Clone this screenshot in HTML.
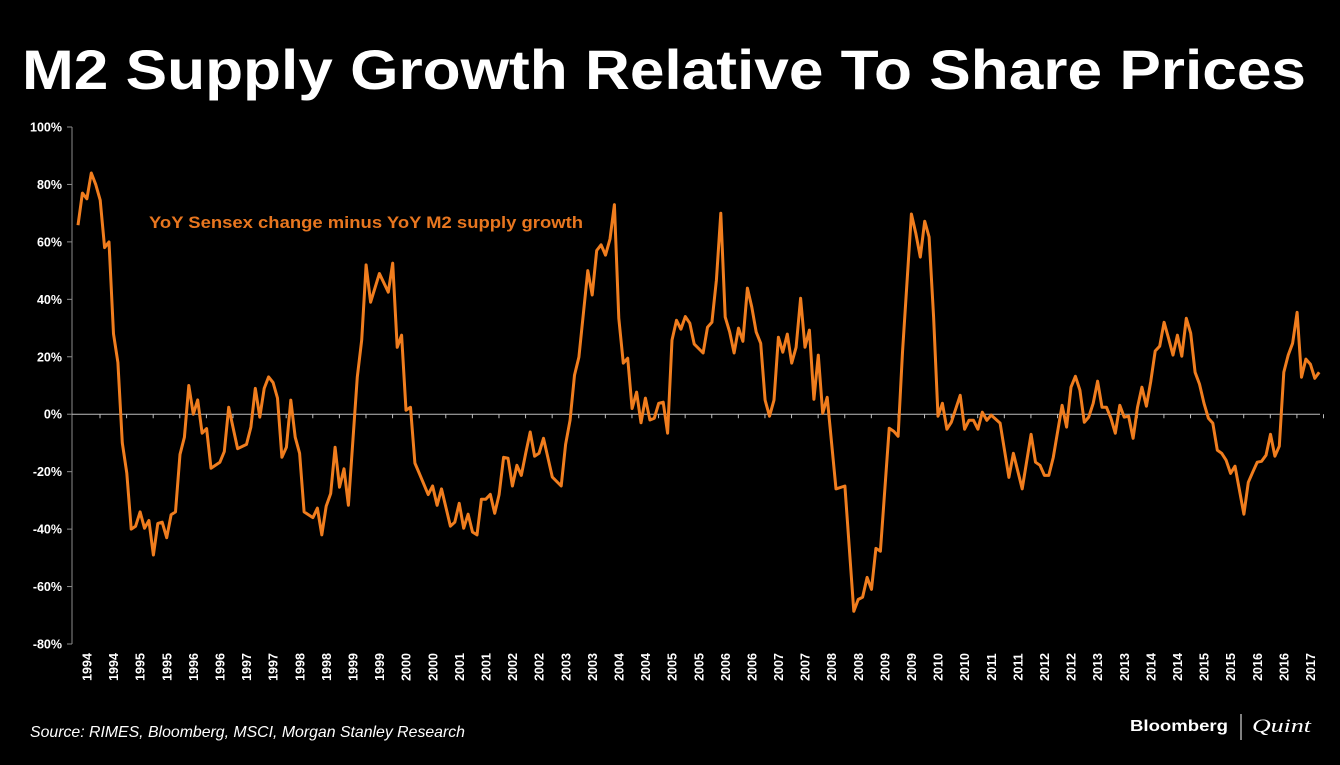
<!DOCTYPE html>
<html><head><meta charset="utf-8"><style>
html,body{margin:0;padding:0;background:#000;}
svg{display:block;font-family:"Liberation Sans",sans-serif;}
</style></head><body>
<svg id="chart" width="1340" height="765" viewBox="0 0 1340 765">
<rect x="0" y="0" width="1340" height="765" fill="#000"/>
<text x="22" y="89" fill="#fff" font-size="56" font-weight="bold" textLength="1284" lengthAdjust="spacingAndGlyphs">M2 Supply Growth Relative To Share Prices</text>
<g id="yaxis"></g>
<g id="xaxis"></g>
<path id="line" fill="none" stroke="#f07d1e" stroke-width="3" stroke-linejoin="round"/>
<text x="149" y="228" fill="#e8761f" font-size="17" font-weight="bold" textLength="434" lengthAdjust="spacingAndGlyphs">YoY Sensex change minus YoY M2 supply growth</text>
<text x="30" y="737" fill="#fff" font-size="16" font-style="italic" textLength="435" lengthAdjust="spacingAndGlyphs">Source: RIMES, Bloomberg, MSCI, Morgan Stanley Research</text>
<text x="1130" y="731" fill="#fff" font-size="16" font-weight="bold" textLength="98" lengthAdjust="spacingAndGlyphs">Bloomberg</text>
<line x1="1241" y1="714" x2="1241" y2="740" stroke="#fff" stroke-width="1"/>
<text x="1252" y="732" fill="#fff" font-size="19" font-style="italic" font-family="Liberation Serif, serif" textLength="59" lengthAdjust="spacingAndGlyphs">Quint</text>
</svg>
<script>
const months = [0,1,2,3,4,5,6,7,8,9,10,11,12,13,14,15,16,17,18,19,20,21,22,23,24,25,26,27,28,29,30,32,33,34,36,38,39,40,41,42,43,44,45,46,47,48,49,50,51,53,54,55,56,57,58,59,60,61,63,64,65,66,68,70,71,72,73,74,75,76,77,79,80,81,82,84,85,86,87,88,89,90,91,92,93,94,95,96,97,98,99,100,101,102,103,104,105,107,109,110,111,112,113,115,116,117,118,119,120,121,122,123,124,125,126,127,128,129,130,131,132,133,134,135,136,137,138,139,141,142,143,144,145,146,147,148,149,150,151,152,153,154,155,156,157,158,159,160,161,162,163,164,165,166,167,168,169,171,173,175,176,177,178,179,180,181,183,184,185,186,188,189,190,191,192,193,194,195,196,197,199,200,201,202,203,204,205,206,208,210,211,213,215,216,217,218,219,220,222,223,224,225,226,227,228,229,230,231,232,233,234,235,236,237,238,239,240,241,242,243,244,245,246,247,248,249,250,251,252,253,254,255,256,257,258,259,260,261,263,264,265,266,267,268,269,270,271,272,273,274,275,276,277,278,279,280];
const values = [65.8,77,75,84,80,74.5,58,60,28,18,-10,-20.5,-40,-39,-34,-39.7,-37,-49,-38,-37.6,-43,-35,-34,-14,-8,10,0,5,-6.6,-5,-18.8,-16.7,-13,2.4,-12,-10.5,-4.5,9,-1,9,13,11,5.6,-15,-11.5,4.9,-8,-13.6,-34,-36,-32.7,-42,-32,-27.6,-11.5,-25.4,-19,-31.7,13,25.8,52,39,49,42.5,52.6,23.3,27.5,1.4,2.4,-17,-20.6,-28,-25,-31.7,-26,-39,-37.6,-31,-39.7,-34.8,-41,-42,-29.6,-29.6,-27.9,-34.5,-28,-15,-15.3,-25,-17.8,-21.3,-13.6,-6.2,-14.6,-13.6,-8.4,-21.9,-25,-10.5,-2,13.6,19.9,50,41.5,57,59,55.4,61,73,33.4,17.8,19.5,2,7.7,-3,5.6,-2,-1.4,3.8,4.2,-6.6,25.8,32.7,29.6,34,31.7,24.4,21.3,30.3,32,46.7,70,33.8,28.6,21.3,30,25.4,43.9,37.3,28.6,24.7,4.9,-0.7,4.9,26.8,21.6,27.9,17.8,23.3,40.4,23.3,29.3,5.2,20.6,0.3,5.9,-26,-25,-68.6,-64.5,-63.7,-56.8,-61,-46.7,-47.7,-4.9,-5.9,-7.7,21.6,69.7,63,54.7,67.2,61.7,33.8,-0.7,3.8,-5.2,-2.8,6.6,-5.2,-2.1,-2.1,-5.2,0.7,-2.1,-0.3,-3.1,-22,-13.6,-26,-7,-16.7,-17.8,-21.3,-21.3,-15,3.1,-4.5,9.4,13.2,8.4,-2.8,-1,3.8,11.5,2.4,2.4,-1.4,-6.6,3.1,-1,-0.7,-8.4,2.4,9.4,2.8,11.5,22,23.7,32,26.5,20.6,27.5,20.2,33.4,28.2,14.6,10.5,3.8,-1.4,-3.1,-12.5,-13.6,-16,-20.6,-18.1,-34.8,-23.7,-20.2,-16.7,-16.4,-14.3,-7,-14.6,-11.1,14.6,20.6,24.7,35.5,12.9,19.2,17.4,12.5,14.6];
const yTicks = [100,80,60,40,20,0,-20,-40,-60,-80];
const yearLabels = ['1994','1994','1995','1995','1996','1996','1997','1997','1998','1998','1999','1999','2000','2000','2001','2001','2002','2002','2003','2003','2004','2004','2005','2005','2006','2006','2007','2007','2008','2008','2009','2009','2010','2010','2011','2011','2012','2012','2013','2013','2014','2014','2015','2015','2016','2016','2017'];

const NS = 'http://www.w3.org/2000/svg';
const yTop = 127, yBot = 644, vMax = 100, vMin = -80;
function yScale(v){ return yTop + (vMax - v) / (vMax - vMin) * (yBot - yTop); }
const x0 = 78, pxPerMonth = 4.433;
function xScale(m){ return x0 + m * pxPerMonth; }
function mk(tag, attrs){ const e = document.createElementNS(NS, tag); for (const k in attrs) e.setAttribute(k, attrs[k]); return e; }

const ya = document.getElementById('yaxis');
const axl = mk('line', {x1:72, y1:yTop, x2:72, y2:yBot, stroke:'#8c8c8c', 'stroke-width':1});


ya.appendChild(axl);
yTicks.forEach(v => {
  const y = yScale(v);
  const t = mk('line', {x1:67, y1:y, x2:72, y2:y, stroke:'#8c8c8c', 'stroke-width':1});
  
  
  ya.appendChild(t);
  const lb = mk('text', {x:62, y:y+4.5, fill:'#fff', 'font-size':12.5, 'font-weight':'bold', 'text-anchor':'end'});
  lb.textContent = v + '%';
  
  
  ya.appendChild(lb);
});

const xa = document.getElementById('xaxis');
const y0 = yScale(0);
const zl = mk('line', {x1:72, y1:y0, x2:1320, y2:y0, stroke:'#bdbdbd', 'stroke-width':1});


xa.appendChild(zl);
yearLabels.forEach((lab, i) => {
  const x = xScale(i * 6) + 9;
  const tk = mk('line', {x1:x+13, y1:y0, x2:x+13, y2:y0+4, stroke:'#bdbdbd', 'stroke-width':1});
  
  
  xa.appendChild(tk);
  const t = mk('text', {x:0, y:0, fill:'#fff', 'font-size':12.5, 'font-weight':'bold', 'text-anchor':'middle', transform:'translate(' + (x+4.5) + ',667) rotate(-90)'});
  t.textContent = lab;
  
  
  xa.appendChild(t);
});

let d = '';
months.forEach((m, i) => { d += (i ? 'L' : 'M') + xScale(m).toFixed(1) + ',' + yScale(values[i]).toFixed(1); });
document.getElementById('line').setAttribute('d', d);
</script>
</body></html>
